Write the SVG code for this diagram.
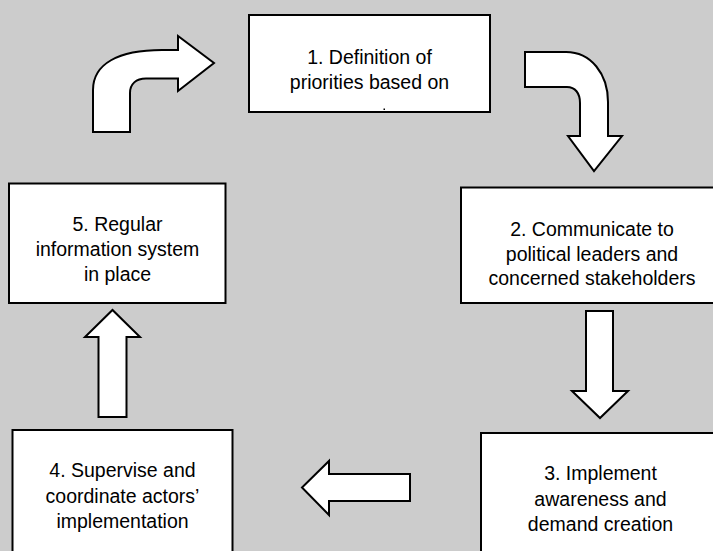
<svg xmlns="http://www.w3.org/2000/svg" width="713" height="551" viewBox="0 0 713 551">
<style>
.box{fill:#ffffff;stroke:#000000;stroke-width:2}
.arrow{fill:#ffffff;stroke:#000000;stroke-width:2;stroke-linejoin:miter}
.lbl{font-family:"Liberation Sans",Arial,sans-serif;font-size:19.5px;fill:#000000;text-anchor:middle}
</style>
<rect x="0" y="0" width="713" height="551" fill="#cccccc"/>
<g id="connectors">
<path class="arrow" d="M 93,132 L 93,90 C 93,64 118,50 162,50 L 178,50 L 178,36 L 214,63 L 178,91 L 178,78.5 L 146,78.5 C 136,78.5 130,84 130,93 L 130,132 Z"/>
<path class="arrow" d="M 525,52 L 566,52 C 591,52 608,74 608,102 L 608,136 L 622,136 L 594,171 L 568,136 L 580,136 L 580,103 C 580,93 575,87 567,87 L 525,87 Z"/>
<path class="arrow" d="M 586,311 L 613,311 L 613,391 L 628,391 L 600,418 L 572,391 L 586,391 Z"/>
<path class="arrow" d="M 410,474 L 410,501 L 329,501 L 329,515 L 302,487.5 L 329,461 L 329,474 Z"/>
<path class="arrow" d="M 98.5,417 L 98.5,337 L 85,337 L 112.5,310 L 140,337 L 126.5,337 L 126.5,417 Z"/>
</g>
<g id="node1">
<rect class="box" x="249" y="15" width="241" height="97"/>
<text class="lbl" x="369.5" y="64">1. Definition of</text>
<text class="lbl" x="369.5" y="89">priorities based on</text>
<rect x="383.5" y="108.5" width="1.5" height="1.5" fill="#000000"/>
</g>
<g id="node2">
<rect class="box" x="461" y="187.5" width="262" height="115.5"/>
<text class="lbl" x="592" y="236">2. Communicate to</text>
<text class="lbl" x="592" y="260.5">political leaders and</text>
<text class="lbl" x="592" y="285">concerned stakeholders</text>
</g>
<g id="node3">
<rect class="box" x="481" y="433" width="260" height="130"/>
<text class="lbl" x="600.5" y="480">3. Implement</text>
<text class="lbl" x="600.5" y="505.5">awareness and</text>
<text class="lbl" x="600.5" y="531">demand creation</text>
</g>
<g id="node4">
<rect class="box" x="12.5" y="430" width="220" height="130"/>
<text class="lbl" x="122.5" y="477">4. Supervise and</text>
<text class="lbl" x="122.5" y="502.5">coordinate actors’</text>
<text class="lbl" x="122.5" y="528">implementation</text>
</g>
<g id="node5">
<rect class="box" x="9" y="183.5" width="216.5" height="119.5"/>
<text class="lbl" x="117.5" y="230.5">5. Regular</text>
<text class="lbl" x="117.5" y="256">information system</text>
<text class="lbl" x="117.5" y="281">in place</text>
</g>
</svg>
